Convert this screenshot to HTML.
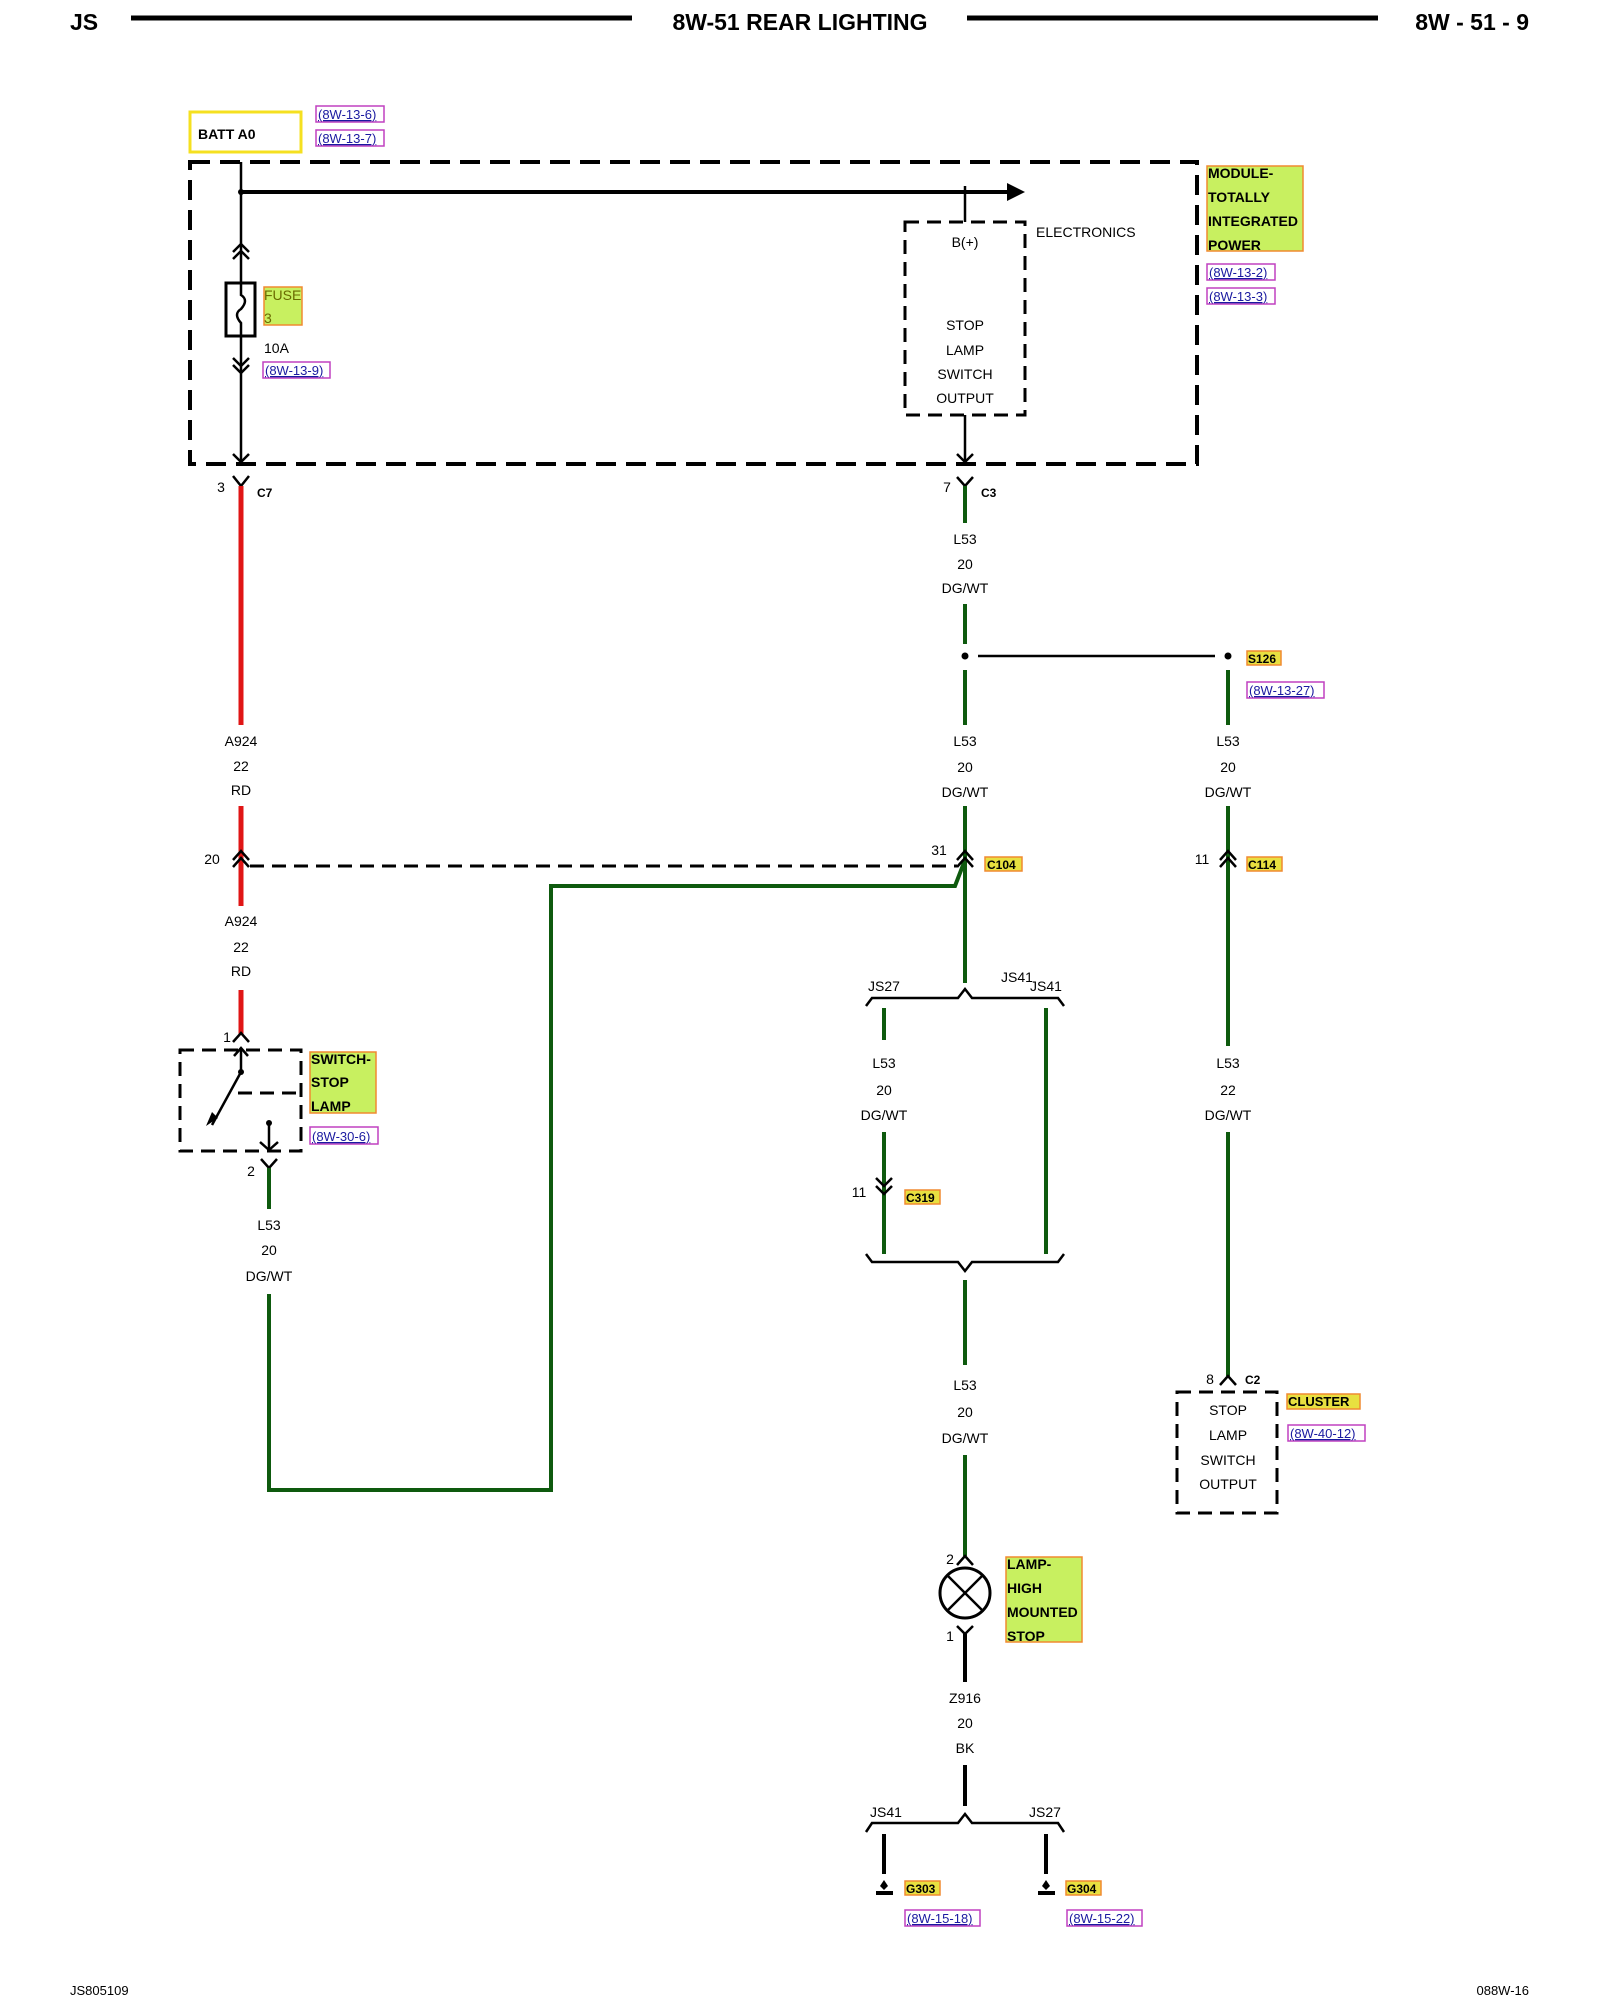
<!DOCTYPE html>
<html><head><meta charset="utf-8"><style>
html,body{margin:0;padding:0;background:#fff;}
svg{display:block;}
text{font-family:"Liberation Sans",Arial,sans-serif;}
</style></head><body>
<svg width="1600" height="2000" viewBox="0 0 1600 2000" xmlns="http://www.w3.org/2000/svg">
<defs>
<style>
.t{font-size:14px;fill:#000;text-anchor:middle;}
.tl{font-size:14px;fill:#000;}
.b{font-weight:bold;}
.ref{font-size:13px;fill:#1a1aa0;text-decoration:underline;}
.dash{fill:none;stroke:#000;stroke-width:4;stroke-dasharray:20,10;}
.dash2{fill:none;stroke:#000;stroke-width:3;stroke-dasharray:14,8;}
.g{stroke:#0e5a0e;stroke-width:4;fill:none;}
.r{stroke:#e01515;stroke-width:5;fill:none;}
.k{stroke:#000;stroke-width:2.5;fill:none;}
.kb{stroke:#000;stroke-width:4;fill:none;}
.lab{fill:#c8f060;stroke:#f08a30;stroke-width:1.5;}
.lab2{fill:#e8e040;stroke:#f08a30;stroke-width:1.5;}
.rb{fill:none;stroke:#c040c0;stroke-width:1.5;}
</style>
</defs>
<!-- header -->
<text x="70" y="30" style="font-size:23px;font-weight:bold">JS</text>
<line x1="131" y1="18" x2="632" y2="18" stroke="#000" stroke-width="5"/>
<text x="800" y="30" class="t" style="font-size:23px;font-weight:bold">8W-51 REAR LIGHTING</text>
<line x1="967" y1="18" x2="1378" y2="18" stroke="#000" stroke-width="5"/>
<text x="1529" y="30" style="font-size:23px;font-weight:bold;text-anchor:end">8W - 51 - 9</text>

<!-- BATT A0 -->
<rect x="190" y="112" width="111" height="40" fill="#fff" stroke="#f5e020" stroke-width="3"/>
<text x="198" y="139" class="tl b" style="font-size:14px">BATT A0</text>
<rect x="316" y="106" width="68" height="16" class="rb"/><text x="318" y="119" class="ref">(8W-13-6)</text>
<rect x="316" y="130" width="68" height="16" class="rb"/><text x="318" y="143" class="ref">(8W-13-7)</text>

<!-- big dashed module box -->
<rect x="190" y="162" width="1007" height="302" class="dash"/>
<rect x="1207" y="166" width="96" height="85" class="lab"/>
<text x="1208" y="178" class="tl b" style="font-size:14px">MODULE-</text>
<text x="1208" y="202" class="tl b" style="font-size:14px">TOTALLY</text>
<text x="1208" y="226" class="tl b" style="font-size:14px">INTEGRATED</text>
<text x="1208" y="250" class="tl b" style="font-size:14px">POWER</text>
<rect x="1207" y="264" width="68" height="16" class="rb"/><text x="1209" y="277" class="ref">(8W-13-2)</text>
<rect x="1207" y="288" width="68" height="16" class="rb"/><text x="1209" y="301" class="ref">(8W-13-3)</text>

<!-- left power wire and fuse -->
<line x1="241" y1="162" x2="241" y2="283" class="k"/>
<circle cx="241" cy="192" r="3" fill="#000"/>
<line x1="241" y1="192" x2="1010" y2="192" class="kb" stroke-width="3"/>
<polygon points="1007,183 1025,192 1007,201" fill="#000"/>
<polyline points="233,252 241,244 249,252" class="k" stroke-width="2"/>
<polyline points="233,259 241,251 249,259" class="k" stroke-width="2"/>
<rect x="226" y="283" width="29" height="53" fill="#fff" stroke="#000" stroke-width="3"/>
<path d="M241,283 v12 q8,5 0,14 q-8,5 0,14 v13" class="k" stroke-width="2"/>
<rect x="264" y="287" width="38" height="38" class="lab"/>
<text x="264" y="300" class="tl" style="fill:#6a6a00;font-size:14px">FUSE</text>
<text x="264" y="323" class="tl" style="fill:#6a6a00;font-size:14px">3</text>
<text x="264" y="353" class="tl">10A</text>
<rect x="263" y="362" width="67" height="16" class="rb"/><text x="265" y="375" class="ref">(8W-13-9)</text>
<line x1="241" y1="336" x2="241" y2="462" class="k"/>
<polyline points="233,358 241,366 249,358" class="k" stroke-width="2"/>
<polyline points="233,365 241,373 249,365" class="k" stroke-width="2"/>
<polyline points="233,454 241,462 249,454" class="k" stroke-width="2"/>

<!-- electronics box -->
<line x1="965" y1="186" x2="965" y2="222" class="k"/>
<rect x="905" y="222" width="120" height="193" class="dash2"/>
<text x="965" y="247" class="t">B(+)</text>
<text x="1036" y="237" class="tl">ELECTRONICS</text>
<text x="965" y="330" class="t">STOP</text>
<text x="965" y="355" class="t">LAMP</text>
<text x="965" y="379" class="t">SWITCH</text>
<text x="965" y="403" class="t">OUTPUT</text>
<line x1="965" y1="415" x2="965" y2="462" class="k"/>
<polyline points="957,454 965,462 973,454" class="k" stroke-width="2"/>

<!-- C7 connector and red wire -->
<polyline points="233,476 241,486 249,476" class="k" stroke-width="2.5"/>
<text x="221" y="492" class="t">3</text>
<text x="257" y="497" class="tl b" style="font-size:12px">C7</text>
<line x1="241" y1="486" x2="241" y2="725" class="r"/>
<text x="241" y="746" class="t">A924</text>
<text x="241" y="771" class="t">22</text>
<text x="241" y="795" class="t">RD</text>
<line x1="241" y1="806" x2="241" y2="906" class="r"/>
<polyline points="233,860 241,851 249,860" class="k" stroke-width="2.5"/>
<polyline points="233,867 241,858 249,867" class="k" stroke-width="2.5"/>
<text x="212" y="864" class="t">20</text>
<line x1="250" y1="866" x2="957" y2="866" class="dash2" stroke-width="2.5"/>
<text x="241" y="926" class="t">A924</text>
<text x="241" y="952" class="t">22</text>
<text x="241" y="976" class="t">RD</text>
<line x1="241" y1="990" x2="241" y2="1034" class="r"/>
<polyline points="233,1042 241,1033 249,1042" class="k" stroke-width="2.5"/>
<text x="227" y="1042" class="t">1</text>

<!-- switch -->
<rect x="180" y="1050" width="121" height="101" class="dash2"/>
<line x1="241" y1="1048" x2="241" y2="1072" class="k"/>
<polyline points="234,1056 241,1048 248,1056" class="k" stroke-width="2"/>
<circle cx="241" cy="1072" r="3" fill="#000"/>
<line x1="241" y1="1072" x2="212" y2="1125" class="k"/>
<polygon points="206,1126 212,1112 218,1118" fill="#000"/>
<line x1="238" y1="1093" x2="300" y2="1093" class="dash2" stroke-width="2.5"/>
<circle cx="269" cy="1123" r="3" fill="#000"/>
<line x1="269" y1="1123" x2="269" y2="1150" class="k"/>
<polyline points="260,1142 269,1150 278,1142" class="k" stroke-width="2"/>
<rect x="310" y="1052" width="66" height="61" class="lab"/>
<text x="311" y="1064" class="tl b">SWITCH-</text>
<text x="311" y="1087" class="tl b">STOP</text>
<text x="311" y="1111" class="tl b">LAMP</text>
<rect x="310" y="1127" width="68" height="17" class="rb"/><text x="312" y="1141" class="ref">(8W-30-6)</text>
<polyline points="261,1159 269,1168 277,1159" class="k" stroke-width="2.5"/>
<text x="251" y="1176" class="t">2</text>
<line x1="269" y1="1168" x2="269" y2="1209" class="g"/>
<text x="269" y="1230" class="t">L53</text>
<text x="269" y="1255" class="t">20</text>
<text x="269" y="1281" class="t">DG/WT</text>
<polyline points="269,1294 269,1490 551,1490 551,886 955,886 965,860" class="g"/>

<!-- middle column -->
<polyline points="957,477 965,486 973,477" class="k" stroke-width="2.5"/>
<text x="947" y="492" class="t">7</text>
<text x="981" y="497" class="tl b" style="font-size:12px">C3</text>
<line x1="965" y1="486" x2="965" y2="523" class="g"/>
<text x="965" y="544" class="t">L53</text>
<text x="965" y="569" class="t">20</text>
<text x="965" y="593" class="t">DG/WT</text>
<line x1="965" y1="604" x2="965" y2="644" class="g"/>
<circle cx="965" cy="656" r="3.5" fill="#000"/>
<line x1="978" y1="656" x2="1215" y2="656" class="k" stroke-width="3"/>
<line x1="965" y1="670" x2="965" y2="725" class="g"/>
<text x="965" y="746" class="t">L53</text>
<text x="965" y="772" class="t">20</text>
<text x="965" y="797" class="t">DG/WT</text>
<line x1="965" y1="806" x2="965" y2="983" class="g"/>
<polyline points="957,860 965,851 973,860" class="k" stroke-width="2.5"/>
<polyline points="957,867 965,858 973,867" class="k" stroke-width="2.5"/>
<text x="939" y="855" class="t">31</text>
<rect x="985" y="857" width="37" height="14" class="lab2"/>
<text x="987" y="869" class="tl b" style="font-size:12px">C104</text>

<!-- top bracket -->
<path d="M866,1006 l6,-8 h86 l7,-9 l7,9 h86 l6,8" class="k" stroke-width="2.5"/>
<text x="884" y="991" class="t">JS27</text>
<text x="1017" y="982" class="t">JS41</text>
<text x="1046" y="991" class="t">JS41</text>
<line x1="884" y1="1008" x2="884" y2="1040" class="g"/>
<text x="884" y="1068" class="t">L53</text>
<text x="884" y="1095" class="t">20</text>
<text x="884" y="1120" class="t">DG/WT</text>
<line x1="884" y1="1132" x2="884" y2="1254" class="g"/>
<polyline points="876,1178 884,1186 892,1178" class="k" stroke-width="2.5"/>
<polyline points="876,1186 884,1194 892,1186" class="k" stroke-width="2.5"/>
<text x="859" y="1197" class="t">11</text>
<rect x="905" y="1190" width="35" height="14" class="lab2"/>
<text x="906" y="1202" class="tl b" style="font-size:12px">C319</text>
<line x1="1046" y1="1008" x2="1046" y2="1254" class="g"/>
<!-- bottom bracket -->
<path d="M866,1254 l6,8 h86 l7,9 l7,-9 h86 l6,-8" class="k" stroke-width="2.5"/>
<line x1="965" y1="1280" x2="965" y2="1365" class="g"/>
<text x="965" y="1390" class="t">L53</text>
<text x="965" y="1417" class="t">20</text>
<text x="965" y="1443" class="t">DG/WT</text>
<line x1="965" y1="1455" x2="965" y2="1556" class="g"/>
<polyline points="957,1565 965,1556 973,1565" class="k" stroke-width="2.5"/>
<text x="950" y="1564" class="t">2</text>
<circle cx="965" cy="1593" r="25" fill="#fff" stroke="#000" stroke-width="3"/>
<line x1="947" y1="1575" x2="983" y2="1611" class="k"/>
<line x1="983" y1="1575" x2="947" y2="1611" class="k"/>
<polyline points="957,1626 965,1634 973,1626" class="k" stroke-width="2.5"/>
<text x="950" y="1641" class="t">1</text>
<line x1="965" y1="1634" x2="965" y2="1682" class="kb" stroke-width="4.5"/>
<rect x="1006" y="1557" width="76" height="85" class="lab"/>
<text x="1007" y="1569" class="tl b">LAMP-</text>
<text x="1007" y="1593" class="tl b">HIGH</text>
<text x="1007" y="1617" class="tl b">MOUNTED</text>
<text x="1007" y="1641" class="tl b">STOP</text>
<text x="965" y="1703" class="t">Z916</text>
<text x="965" y="1728" class="t">20</text>
<text x="965" y="1753" class="t">BK</text>
<line x1="965" y1="1765" x2="965" y2="1806" class="kb" stroke-width="4.5"/>
<path d="M866,1832 l6,-9 h86 l7,-9 l7,9 h86 l6,9" class="k" stroke-width="2.5"/>
<text x="886" y="1817" class="t">JS41</text>
<text x="1045" y="1817" class="t">JS27</text>
<line x1="884" y1="1834" x2="884" y2="1874" class="kb" stroke-width="4.5"/>
<line x1="1046" y1="1834" x2="1046" y2="1874" class="kb" stroke-width="4.5"/>
<line x1="876" y1="1893" x2="893" y2="1893" stroke="#000" stroke-width="4"/>
<polygon points="884,1880 888,1886 884,1890 880,1886" fill="#000"/>
<line x1="1038" y1="1893" x2="1055" y2="1893" stroke="#000" stroke-width="4"/>
<polygon points="1046,1880 1050,1886 1046,1890 1042,1886" fill="#000"/>
<rect x="905" y="1881" width="35" height="14" class="lab2"/>
<text x="906" y="1893" class="tl b" style="font-size:12px">G303</text>
<rect x="1066" y="1881" width="35" height="14" class="lab2"/>
<text x="1067" y="1893" class="tl b" style="font-size:12px">G304</text>
<rect x="905" y="1910" width="75" height="16" class="rb"/><text x="907" y="1923" class="ref">(8W-15-18)</text>
<rect x="1067" y="1910" width="75" height="16" class="rb"/><text x="1069" y="1923" class="ref">(8W-15-22)</text>

<!-- right column -->
<circle cx="1228" cy="656" r="3.5" fill="#000"/>
<rect x="1247" y="651" width="34" height="14" class="lab2"/>
<text x="1248" y="663" class="tl b" style="font-size:12px">S126</text>
<rect x="1247" y="682" width="77" height="16" class="rb"/><text x="1249" y="695" class="ref">(8W-13-27)</text>
<line x1="1228" y1="670" x2="1228" y2="725" class="g"/>
<text x="1228" y="746" class="t">L53</text>
<text x="1228" y="772" class="t">20</text>
<text x="1228" y="797" class="t">DG/WT</text>
<line x1="1228" y1="806" x2="1228" y2="1046" class="g"/>
<polyline points="1220,860 1228,851 1236,860" class="k" stroke-width="2.5"/>
<polyline points="1220,867 1228,858 1236,867" class="k" stroke-width="2.5"/>
<text x="1202" y="864" class="t">11</text>
<rect x="1247" y="857" width="35" height="14" class="lab2"/>
<text x="1248" y="869" class="tl b" style="font-size:12px">C114</text>
<text x="1228" y="1068" class="t">L53</text>
<text x="1228" y="1095" class="t">22</text>
<text x="1228" y="1120" class="t">DG/WT</text>
<line x1="1228" y1="1132" x2="1228" y2="1376" class="g"/>
<polyline points="1220,1385 1228,1376 1236,1385" class="k" stroke-width="2.5"/>
<text x="1210" y="1384" class="t">8</text>
<text x="1245" y="1384" class="tl b" style="font-size:12px">C2</text>
<rect x="1177" y="1392" width="100" height="121" class="dash2"/>
<text x="1228" y="1415" class="t">STOP</text>
<text x="1228" y="1440" class="t">LAMP</text>
<text x="1228" y="1465" class="t">SWITCH</text>
<text x="1228" y="1489" class="t">OUTPUT</text>
<rect x="1287" y="1394" width="73" height="15" class="lab2"/>
<text x="1288" y="1406" class="tl b" style="font-size:13px">CLUSTER</text>
<rect x="1288" y="1425" width="77" height="16" class="rb"/><text x="1290" y="1438" class="ref">(8W-40-12)</text>

<!-- footer -->
<text x="70" y="1995" class="tl" style="font-size:13px">JS805109</text>
<text x="1529" y="1995" style="font-size:13px;text-anchor:end">088W-16</text>
</svg>
</body></html>
